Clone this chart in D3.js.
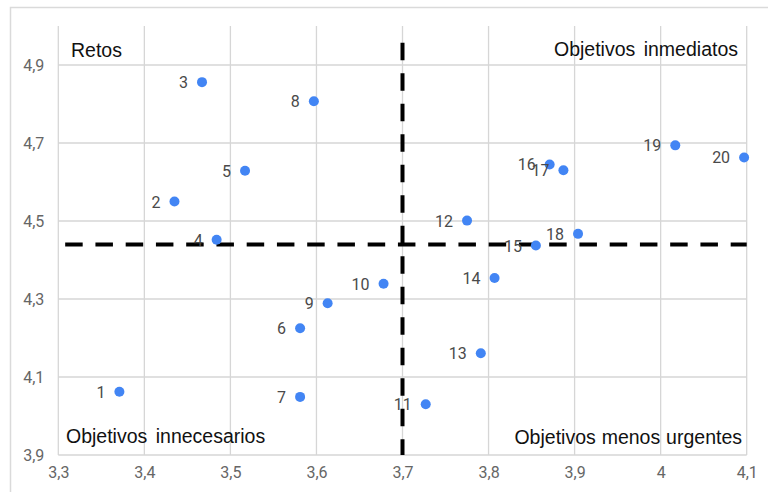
<!DOCTYPE html>
<html>
<head>
<meta charset="utf-8">
<script src="https://cdn.jsdelivr.net/npm/d3@7"></script>
<style>
  html, body { margin: 0; padding: 0; background: #fff; }
  svg { display: block; }
</style>
</head>
<body>
<svg id="chart" width="768" height="492"></svg>
<script>
// Objective ids and their (x, y) scores
const ids = [1, 2, 3, 4, 5, 6, 7, 8, 9, 10, 11, 12, 13, 14, 15, 16, 17, 18, 19, 20];
const xValues = [3.371, 3.435, 3.467, 3.484, 3.517, 3.581, 3.581, 3.597, 3.613, 3.678,
                 3.727, 3.775, 3.791, 3.807, 3.855, 3.871, 3.887, 3.904, 4.017, 4.097];
const yValues = [4.062, 4.550, 4.856, 4.452, 4.629, 4.225, 4.049, 4.807, 4.289, 4.339,
                 4.030, 4.501, 4.161, 4.354, 4.437, 4.645, 4.630, 4.467, 4.694, 4.663];

// Quadrant divider lines
const hDividerX = [3.308, 4.1];
const hDividerY = 4.44;
const vDividerX = 3.7;
const vDividerY = [3.9, 4.957];

// Axis ticks
const xTicks = [3.3, 3.4, 3.5, 3.6, 3.7, 3.8, 3.9, 4.0, 4.1];
const yTicks = [3.9, 4.1, 4.3, 4.5, 4.7, 4.9];
const xDomain = [3.3, 4.1];
const yDomain = [3.9, 5.0];

// Quadrant captions
const quadrantLabels = ["Retos", "Objetivos inmediatos", "Objetivos innecesarios", "Objetivos menos urgentes"];

const svg = d3.select("#chart");
const fmt = v => (Math.round(v * 10) / 10).toString().replace(".", ",");
const FONT = "'Liberation Sans', Arial, sans-serif";
const NUMFONT = "Roboto, Arial, sans-serif";

const x = d3.scaleLinear().domain(xDomain).range([58.3, 746.7]);
const y = d3.scaleLinear().domain(yDomain).range([455, 26]);

// outer frame
svg.append("rect")
  .attr("x", 10.5).attr("y", 7.5).attr("width", 800).attr("height", 520)
  .attr("fill", "none").attr("stroke", "#dadada").attr("stroke-width", 1.5);

const grid = svg.append("g").attr("stroke", "#d6d6d6").attr("stroke-width", 1.3);
grid.selectAll("line.v").data(xTicks).join("line")
  .attr("x1", d => x(d)).attr("x2", d => x(d))
  .attr("y1", y(yDomain[1])).attr("y2", y(yDomain[0]));
grid.selectAll("line.h").data(yTicks).join("line")
  .attr("x1", x(xDomain[0])).attr("x2", x(xDomain[1]))
  .attr("y1", d => y(d)).attr("y2", d => y(d));

// axes (labels only)
const xAxis = d3.axisBottom(x).tickValues(xTicks).tickFormat(fmt).tickSize(0).tickPadding(12);
const gx = svg.append("g").attr("transform", `translate(0,${y(yDomain[0])})`).call(xAxis);
const yAxis = d3.axisLeft(y).tickValues(yTicks).tickFormat(fmt).tickSize(0).tickPadding(14);
const gy = svg.append("g").attr("transform", `translate(${x(xDomain[0])},0)`).call(yAxis);
[gx, gy].forEach(g => {
  g.select(".domain").remove();
  g.selectAll("text").attr("fill", "#666").attr("font-family", NUMFONT).attr("font-size", 16);
});

// dashed dividers
svg.append("line")
  .attr("x1", x(hDividerX[0])).attr("x2", x(hDividerX[1]))
  .attr("y1", y(hDividerY)).attr("y2", y(hDividerY))
  .attr("stroke", "#000").attr("stroke-width", 4).attr("stroke-dasharray", "17.5,12.75");
svg.append("line")
  .attr("x1", x(vDividerX)).attr("x2", x(vDividerX))
  .attr("y1", y(vDividerY[1])).attr("y2", y(vDividerY[0]))
  .attr("stroke", "#000").attr("stroke-width", 4).attr("stroke-dasharray", "17.5,13");

const pts = ids.map((id, i) => ({ id, xv: xValues[i], yv: yValues[i] }));

svg.append("g").selectAll("circle").data(pts).join("circle")
  .attr("cx", d => x(d.xv)).attr("cy", d => y(d.yv)).attr("r", 5)
  .attr("fill", "#4285f4");

svg.append("g").selectAll("text").data(pts).join("text")
  .attr("x", d => x(d.xv) - 14).attr("y", d => y(d.yv) + 6)
  .attr("text-anchor", "end")
  .attr("font-family", NUMFONT).attr("font-size", 16)
  .attr("fill", "#4a4a4a")
  .text(d => d.id);

// quadrant captions
const qPos = [
  { x: 71, y: 57, anchor: "start" },
  { x: 738, y: 56, anchor: "end" },
  { x: 66, y: 443, anchor: "start" },
  { x: 742, y: 444, anchor: "end" }
];
const qSpacing = [3, 3, 3, 0.5];
svg.append("g").selectAll("text").data(quadrantLabels).join("text")
  .attr("x", (d, i) => qPos[i].x).attr("y", (d, i) => qPos[i].y)
  .attr("text-anchor", (d, i) => qPos[i].anchor)
  .attr("font-family", FONT).attr("font-size", 19.5)
  .attr("word-spacing", (d, i) => qSpacing[i])
  .attr("fill", "#111")
  .text(d => d);
</script>
</body>
</html>
